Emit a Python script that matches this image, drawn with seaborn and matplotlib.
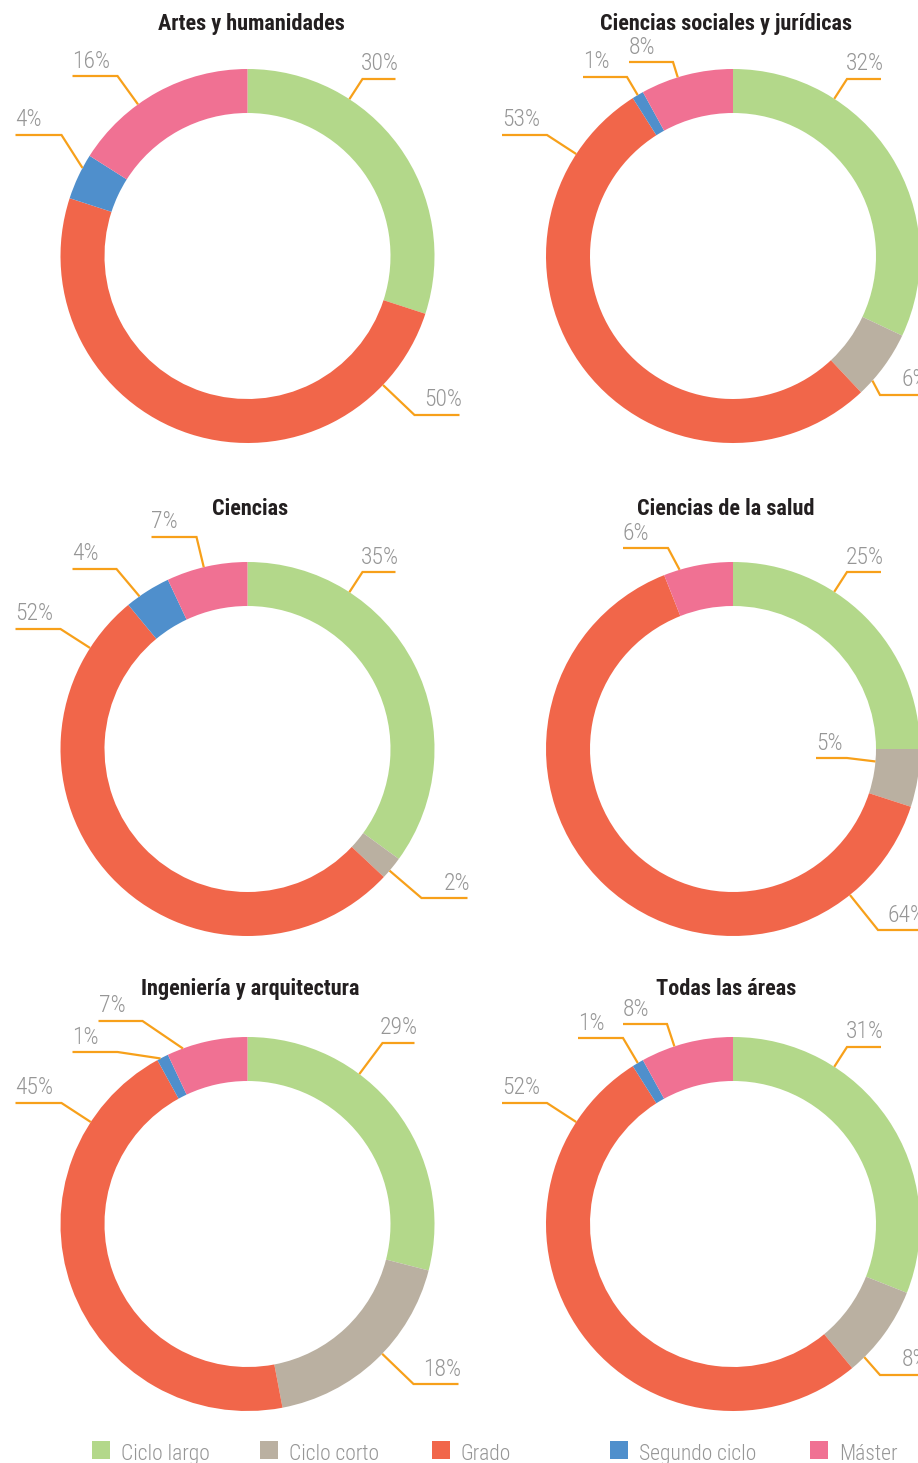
import numpy as np
import matplotlib
matplotlib.use("Agg")
import matplotlib.pyplot as plt
from matplotlib.patches import Rectangle
import seaborn as sns

# ---------------- data ----------------
categories = ["Ciclo largo", "Ciclo corto", "Grado", "Segundo ciclo", "Máster"]
areas = ["Artes y humanidades", "Ciencias sociales y jurídicas", "Ciencias",
         "Ciencias de la salud", "Ingeniería y arquitectura", "Todas las áreas"]
artes = [30, 0, 50, 4, 16]
sociales = [32, 6, 53, 1, 8]
ciencias = [35, 2, 52, 4, 7]
salud = [25, 5, 64, 0, 6]
ingenieria = [29, 18, 45, 1, 7]
todas = [31, 8, 52, 1, 8]
series = [artes, sociales, ciencias, salud, ingenieria, todas]

# ---------------- style ----------------
sns.set_theme(style="white")
plt.rcParams["font.family"] = ["Roboto Condensed", "Roboto", "DejaVu Sans"]
plt.rcParams["font.stretch"] = "condensed"
palette = sns.color_palette(["#b3d88a", "#bab0a1", "#f1664a", "#4f8fcc", "#f07193"])
LEADER = "#f7a01a"
LABEL_C = "#969696"
TITLE_C = "#231f20"

# ---------------- layout (pixels) ----------------
W, H = 918, 1463
CENTERS = [(247.5, 256), (733, 256), (247.5, 749), (733, 749), (247.5, 1224), (733, 1224)]
TITLE_POS = [(251, 30), (726, 30), (250, 515), (726, 515), (250.5, 995), (726.5, 995)]
R_OUT, RING = 187, 44
R_IN = R_OUT - RING
# label elbow relative to centre (x right, y down) and signed length of underline
LABEL_LAYOUT = [
    [(115, -177, 33), None, (167, 159, 45), (-186, -121, -46), (-130, -180, -45)],
    [(114, -177, 34), (147, 139, 45), (-186, -121, -45), (-106, -179, -44), (-60, -194, -44)],
    [(115, -177, 33), (174, 149, 46), (-187, -120, -45), (-131, -180, -44), (-51, -212, -45)],
    [(114, -177, 34), (114, 9, -31), (145, 181, 45), None, (-65, -201, -45)],
    [(135, -181, 32), (166, 160, 45), (-186, -121, -46), (-130, -172, -45), (-105, -203, -44)],
    [(114, -177, 34), (147, 151, 45), (-186, -121, -45), (-110, -186, -45), (-66, -200, -44)],
]
LEG_X = [92, 260, 432, 610, 810]
LEG_Y, LEG_SQ = 1441, 18

fig = plt.figure(figsize=(W / 100, H / 100), dpi=100)
ax = fig.add_axes([0, 0, 1, 1])

for vals, title, (cx, cy), (tx, ty), layout in zip(series, areas, CENTERS, TITLE_POS, LABEL_LAYOUT):
    ax.pie(vals, radius=R_OUT, center=(cx, cy), startangle=-90, counterclock=True,
           colors=palette, wedgeprops=dict(width=RING, linewidth=0))
    ax.text(tx, ty, title, ha="center", va="baseline", fontsize=16,
            fontweight="bold", color=TITLE_C)
    bounds = np.concatenate([[0], np.cumsum(vals)]) / np.sum(vals) * 360.0
    for i, v in enumerate(vals):
        spec = layout[i]
        if spec is None or v == 0:
            continue
        ex, ey, L = spec
        a0, a1 = bounds[i], bounds[i + 1]
        m = min(0.3 * (a1 - a0), 5.0)
        phi = np.degrees(np.arctan2(ex, -ey)) % 360
        phi = np.clip(phi, a0 + m, a1 - m)
        r = R_OUT if np.hypot(ex, ey) > R_OUT else R_IN
        px = cx + r * np.sin(np.radians(phi))
        py = cy - r * np.cos(np.radians(phi))
        fx = cx + ex + L
        ax.plot([px, cx + ex, fx], [py, cy + ey, cy + ey], color=LEADER, lw=1.6,
                solid_capstyle="butt", solid_joinstyle="miter")
        if L > 0:
            ax.text(fx + 3, cy + ey - 8.5, f"{v}%", ha="right", va="baseline",
                    fontsize=17, fontweight="light", color=LABEL_C)
        else:
            ax.text(fx, cy + ey - 8.5, f"{v}%", ha="left", va="baseline",
                    fontsize=17, fontweight="light", color=LABEL_C)

for name, col, lx in zip(categories, palette, LEG_X):
    ax.add_patch(Rectangle((lx, LEG_Y), LEG_SQ, LEG_SQ, facecolor=col, edgecolor="none"))
    ax.text(lx + 29, LEG_Y + 19, name, ha="left", va="baseline", fontsize=15.5,
            fontweight="light", color=LABEL_C)

ax.set_xlim(0, W)
ax.set_ylim(H, 0)
ax.set_aspect("equal")
ax.axis("off")
fig.savefig("out.png", dpi=100, facecolor="white")
